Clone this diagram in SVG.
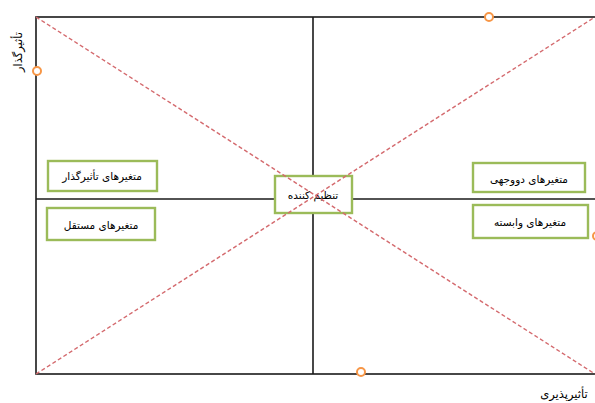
<svg xmlns="http://www.w3.org/2000/svg" width="595" height="403" viewBox="0 0 595 403">
<style>
.frame{fill:none;stroke:#1a1a1a;stroke-width:1.6}
.diag{stroke:#D46A6E;stroke-width:1.4;stroke-dasharray:4 2.5;fill:none}
.box{fill:#fff;stroke:#9BBB59;stroke-width:2.4}
.lbl{font-family:"DejaVu Sans","Noto Sans",sans-serif;font-size:10.5px;fill:#000;text-anchor:middle}
.ax{font-size:11.5px}
.dot{fill:#fff;stroke:#F79646;stroke-width:2}
</style>
<rect width="595" height="403" fill="#fff"/>
<g id="frame">
<rect class="frame" x="36" y="17" width="570" height="357"/>
<line class="frame" x1="313" y1="17" x2="313" y2="374"/>
<line class="frame" x1="36" y1="199" x2="595" y2="199"/>
</g>
<g id="n-influential">
<rect class="box" x="48" y="161" width="109" height="30"/>
<text class="lbl" x="102" y="180" direction="rtl">متغیرهای تأثیرگذار</text>
</g>
<g id="n-independent">
<rect class="box" x="47" y="208" width="108" height="32"/>
<text class="lbl" x="101" y="229" direction="rtl">متغیرهای مستقل</text>
</g>
<g id="n-regulator">
<rect class="box" x="275" y="176" width="77" height="37"/>
<text class="lbl" x="313" y="199" direction="rtl">تنظیم کننده</text>
</g>
<g id="n-dual">
<rect class="box" x="473" y="163" width="112" height="29"/>
<text class="lbl" x="529" y="183" direction="rtl">متغیرهای دووجهی</text>
</g>
<g id="n-dependent">
<rect class="box" x="473" y="205" width="115" height="33"/>
<text class="lbl" x="530" y="226" direction="rtl">متغیرهای وابسته</text>
</g>
<g id="connectors">
<line class="diag" x1="36" y1="17" x2="595" y2="374"/>
<line class="diag" x1="36" y1="374" x2="595" y2="17"/>
</g>
<g id="markers">
<circle class="dot" cx="37" cy="71" r="4"/>
<circle class="dot" cx="489" cy="17" r="4"/>
<circle class="dot" cx="361" cy="372" r="4"/>
<circle class="dot" cx="597" cy="236" r="4"/>
</g>
<g id="axis-labels">
<text class="lbl ax" transform="translate(22,52) rotate(-90)" direction="rtl">تأثیرگذار</text>
<text class="lbl ax" x="564" y="398" direction="rtl">تأثیرپذیری</text>
</g>
</svg>
